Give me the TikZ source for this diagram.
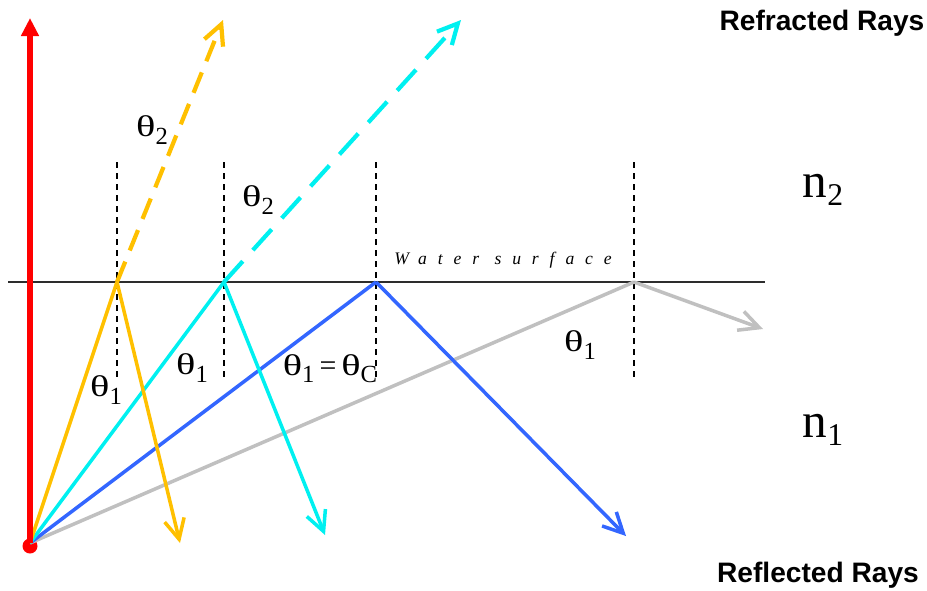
\documentclass[tikz,border=0pt]{standalone}
\usepackage{fontspec}
\setmainfont{Liberation Serif}
\newfontfamily\headsans{Liberation Sans}
\usetikzlibrary{arrows.meta}
\definecolor{rayyellow}{RGB}{255,192,0}
\definecolor{raycyan}{RGB}{0,240,240}
\definecolor{rayblue}{RGB}{51,102,255}
\definecolor{raygray}{RGB}{192,192,192}
\definecolor{rayred}{RGB}{255,0,0}
\definecolor{surfgray}{RGB}{45,45,45}
\newcommand{\lowsub}[1]{\raisebox{-0.24em}{\fontsize{7}{7}\selectfont #1}}
\newcommand{\wth}{\scalebox{1.35}[1]{θ}}
\tikzset{
  ray/.style={line width=1pt},
  barb/.style={-{Straight Barb[length=2mm,width=2mm]}},
  normalline/.style={line width=0.45pt, dash pattern=on 0.6mm off 0.5mm},
  thetalbl/.style={font=\fontsize{8.5}{9}\selectfont, inner sep=0pt},
  mediumlbl/.style={font=\fontsize{14}{15}\selectfont, inner sep=0pt},
  headlbl/.style={font=\headsans\bfseries\fontsize{8}{9}\selectfont, inner sep=0pt},
  surflbl/.style={font=\itshape\fontsize{5}{5}\selectfont\addfontfeatures{LetterSpace=62}, inner sep=0pt}
}
\begin{document}
\begin{tikzpicture}[x=0.01cm,y=-0.01cm]
\useasboundingbox (0,0) rectangle (927,590);
% points
\coordinate (S) at (30,543);
\coordinate (Top) at (30,18);
\coordinate (WL) at (8,282);
\coordinate (WR) at (765,282);
\coordinate (P1) at (117,282);
\coordinate (P2) at (224,282);
\coordinate (P3) at (376,282);
\coordinate (P4) at (634,282);
\coordinate (Ry1) at (223,20);
\coordinate (Ry2) at (461,20);
\coordinate (Rf1) at (180,543);
\coordinate (Rf2) at (325,535);
\coordinate (Rf3) at (626,536);
\coordinate (Rf4) at (763,329);
\coordinate (N1t) at (117,162); \coordinate (N1b) at (117,380);
\coordinate (N2t) at (224,162); \coordinate (N2b) at (224,380);
\coordinate (N3t) at (376,162); \coordinate (N3b) at (376,380);
\coordinate (N4t) at (634,162); \coordinate (N4b) at (634,380);
% water surface
\draw[surfgray, line width=0.6pt] (WL) -- (WR);
% normals
\draw[normalline] (N1t) -- (N1b);
\draw[normalline] (N2t) -- (N2b);
\draw[normalline] (N3t) -- (N3b);
\draw[normalline] (N4t) -- (N4b);
% source dot
\fill[rayred] (S) ++(0,3) circle[radius=7.5];
% rays
\draw[ray, raygray] (S) -- (P4);
\draw[ray, raygray, barb] (P4) -- (Rf4);
\draw[ray, rayblue] (S) -- (P3);
\draw[ray, rayblue, barb] (P3) -- (Rf3);
\draw[ray, raycyan] (S) -- (P2);
\draw[ray, raycyan, barb] (P2) -- (Rf2);
\draw[ray, line width=1.2pt, raycyan, barb, dash pattern=on 2.8mm off 1.5mm] (P2) -- (Ry2);
\draw[ray, rayyellow] (S) -- (P1);
\draw[ray, rayyellow, barb] (P1) -- (Rf1);
\draw[ray, line width=1.2pt, rayyellow, barb, dash pattern=on 2.2mm off 1.2mm] (P1) -- (Ry1);
% vertical red ray
\draw[rayred, line width=1.5pt, -{Triangle[length=1.8mm,width=1.7mm]}] (S) -- (Top);
% labels
\node[thetalbl] (th2a) at (152,130) {\wth\lowsub{2}};
\node[thetalbl] (th2b) at (258,200) {\wth\lowsub{2}};
\node[thetalbl] (th1a) at (106,390) {\wth\lowsub{1}};
\node[thetalbl] (th1b) at (192,368) {\wth\lowsub{1}};
\node[thetalbl] (th1c) at (330,369) {\wth\lowsub{1}\,=\,\wth\lowsub{C}};
\node[thetalbl] (th1d) at (580,345) {\wth\lowsub{1}};
\node[surflbl] (surf) at (503,260) {Water surface};
\node[mediumlbl] (n2) at (823,190) {n\raisebox{-0.15em}{\fontsize{9}{9}\selectfont 2}};
\node[mediumlbl] (n1) at (823,430) {n\raisebox{-0.15em}{\fontsize{9}{9}\selectfont 1}};
\node[headlbl] (refrlbl) at (822,23) {Refracted Rays};
\node[headlbl] (refllbl) at (818,575) {Reflected Rays};
\end{tikzpicture}
\end{document}
